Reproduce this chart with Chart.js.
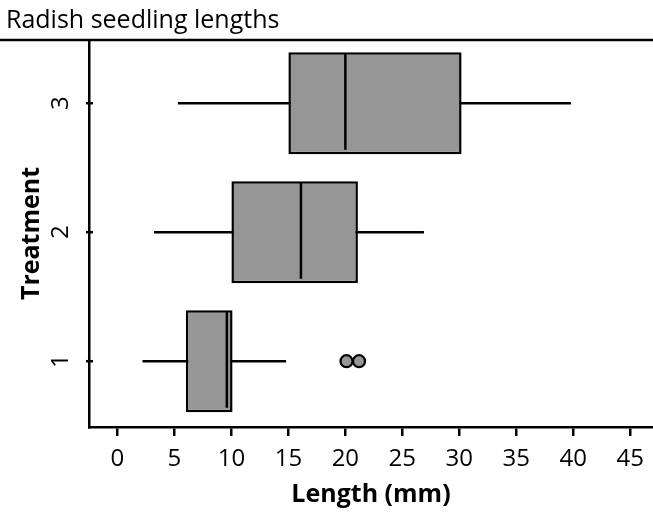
<!DOCTYPE html>
<html>
<head>
<meta charset="utf-8">
<script src="https://cdn.jsdelivr.net/npm/chart.js@4/dist/chart.umd.min.js"></script>
<style>
  html, body { margin: 0; padding: 0; background: #fff; }
  #wrap { width: 653px; height: 512px; position: relative; }
</style>
</head>
<body>
<div id="wrap"><canvas id="c"></canvas></div>
<script>
// Radish seedling lengths — horizontal box plots, one per treatment.
const treatments = [1, 2, 3];
const whiskerLow = [2.2, 3.2, 5.3];
const quart1     = [6, 10, 15];
const medians    = [9.6, 16.1, 20];
const quart3     = [10.1, 21.1, 30.2];
const whiskerHigh = [14.8, 26.9, 39.8];
// outliers: [treatment, length]
const outlierTreatment = [1, 1];
const outlierLength    = [20.1, 21.2];
const xTicks = [0, 5, 10, 15, 20, 25, 30, 35, 40, 45];

const FONT = '"Open Sans", "DejaVu Sans", sans-serif';
const BOX_FILL = '#969696';
const LW = 2.5;

// whisker runs min..max behind the box; box covers the middle part
const whiskerSets = treatments.map((t, i) => ({
    type: 'scatter',
    data: [{ x: whiskerLow[i], y: t }, { x: whiskerHigh[i], y: t }],
    showLine: true,
    borderColor: '#000',
    borderWidth: LW,
    pointRadius: 0,
    order: 3,
}));

const medianSets = treatments.map((t, i) => ({
    type: 'scatter',
    data: [{ x: medians[i], y: t + 0.39 }, { x: medians[i], y: t - 0.36 }],
    showLine: true,
    borderColor: '#000',
    borderWidth: LW,
    pointRadius: 0,
    order: 1,
}));

const topRule = {
    id: 'topRule',
    afterDraw(chart) {
        const { ctx, chartArea } = chart;
        ctx.save();
        ctx.strokeStyle = '#000';
        ctx.lineWidth = LW;
        ctx.beginPath();
        ctx.moveTo(0, chartArea.top);
        ctx.lineTo(chart.width, chartArea.top);
        ctx.stroke();
        // y ticks cross the axis line slightly
        const ys = chart.scales.y;
        ys.ticks.forEach(t => {
            const py = ys.getPixelForValue(t.value);
            ctx.beginPath();
            ctx.moveTo(chartArea.left - 3, py);
            ctx.lineTo(chartArea.left + 4, py);
            ctx.stroke();
        });
        ctx.restore();
    },
};

new Chart(document.getElementById('c'), {
    type: 'bar',
    data: {
        datasets: [
            {
                type: 'bar',
                data: treatments.map((t, i) => ({ x: [quart1[i], quart3[i]], y: t })),
                backgroundColor: BOX_FILL,
                borderColor: '#000',
                borderWidth: LW,
                borderSkipped: false,
                barPercentage: 0.79,
                categoryPercentage: 1,
                order: 2,
            },
            ...whiskerSets,
            ...medianSets,
            {
                type: 'scatter',
                data: outlierLength.map((v, i) => ({ x: v, y: outlierTreatment[i] })),
                backgroundColor: BOX_FILL,
                borderColor: '#000',
                borderWidth: 2.2,
                pointRadius: 6,
                order: 0,
            },
        ],
    },
    options: {
        indexAxis: 'y',
        responsive: true,
        maintainAspectRatio: false,
        animation: false,
        layout: { autoPadding: false, padding: { left: 6, right: 0, top: 0, bottom: 0 } },
        plugins: {
            legend: { display: false },
            tooltip: { enabled: false },
            title: {
                display: true,
                text: 'Radish seedling lengths',
                align: 'start',
                color: '#000',
                font: { family: FONT, size: 25, weight: 'normal', lineHeight: 1.2 },
                padding: { top: 6, bottom: 4 },
            },
        },
        scales: {
            x: {
                type: 'linear',
                min: -2.5,
                max: 47,
                afterBuildTicks: axis => { axis.ticks = xTicks.map(v => ({ value: v })); },
                afterFit: axis => { axis.height = 85; axis.paddingLeft = 0; axis.paddingRight = 0; },
                grid: { drawOnChartArea: false, drawTicks: true, tickLength: 9, color: '#000', lineWidth: LW },
                border: { display: true, color: '#000', width: LW },
                ticks: { color: '#000', padding: 9, maxRotation: 0, font: { family: FONT, size: 24 } },
                title: {
                    display: true,
                    text: 'Length (mm)',
                    color: '#000',
                    font: { family: FONT, size: 25, weight: 'bold', lineHeight: 1.2 },
                    padding: { top: 0, bottom: 2 },
                },
            },
            y: {
                type: 'linear',
                min: 0.49,
                max: 3.49,
                offset: false,
                afterBuildTicks: axis => { axis.ticks = treatments.map(v => ({ value: v })); },
                afterFit: axis => { axis.width = 83; axis.paddingTop = 0; axis.paddingBottom = 0; },
                grid: { offset: false, drawOnChartArea: false, drawTicks: false, color: '#000', lineWidth: LW },
                border: { display: true, color: '#000', width: LW },
                ticks: {
                    color: '#000', padding: 21, minRotation: 90, maxRotation: 90,
                    crossAlign: 'center',
                    font: { family: FONT, size: 24 },
                },
                title: {
                    display: true,
                    text: 'Treatment',
                    color: '#000',
                    font: { family: FONT, size: 25, weight: 'bold', lineHeight: 1.2 },
                    padding: { top: 11, bottom: 0 },
                },
            },
        },
    },
    plugins: [topRule],
});
</script>
</body>
</html>
